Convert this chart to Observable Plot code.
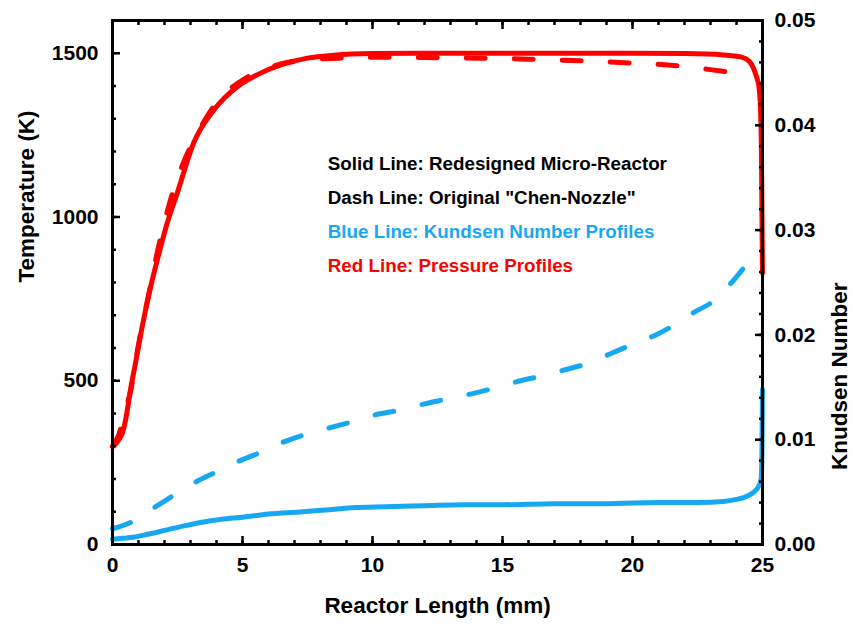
<!DOCTYPE html>
<html><head><meta charset="utf-8">
<script src="https://cdn.jsdelivr.net/npm/d3@7"></script>
<script src="https://cdn.jsdelivr.net/npm/@observablehq/plot@0.6"></script>
<style>body{margin:0;background:#fff}</style>
</head><body><div id="chart"></div>
<script>
// Temperature (K) — red
const xRedSolid = [0,0.2,0.4,0.55,0.67,0.9,1.14,1.42,1.72,2.1,2.49,3.12,3.9,4.8,5.56,6.5,7.5,8.5,10,12.5,15,17.5,20,22,23.5,24.2,24.5,24.65,24.8,24.86,24.92,24.96,24.98,25];
const tRedSolid = [298,315,345,400,462,560,664,770,868,980,1073,1226,1327,1398,1434,1465,1485,1494,1499,1500,1500,1500,1500,1499,1495,1488,1475,1455,1420,1400,1337,1200,1000,828];
const xRedDash = [0,0.23,0.5,0.69,1.01,1.37,1.75,2.2,2.82,3.3,3.7,4.3,5.08,5.5,6.5,7.5,8.7,10,12,14,16,18,20,21.7,23,24.1,24.5];
const tRedDash = [300,333,410,466,615,755,902,1044,1183,1260,1315,1375,1422,1440,1468,1480,1485,1488,1487,1485,1482,1477,1470,1462,1450,1438,1434];
// Knudsen number — blue
const xBlueSolid = [0,0.4,0.8,1.4,2.1,2.8,3.4,4.2,5,6,7.2,8.2,9.2,10.5,12,13.5,15,17,19,21,22.5,23.5,24,24.3,24.55,24.75,24.88,24.95,24.98,25];
const knBlueSolid = [0.0005,0.0006,0.0007,0.0010,0.0014,0.0018,0.0021,0.0024,0.0026,0.0029,0.0031,0.0033,0.0035,0.0036,0.0037,0.0038,0.0038,0.0039,0.0039,0.0040,0.0040,0.0041,0.0043,0.0045,0.0048,0.0052,0.0057,0.0063,0.0090,0.0148];
const xBlueDash = [0,0.7,1.46,2.23,3.08,3.88,4.81,5.6,6.5,7.3,8.3,9.2,10.15,11,11.96,12.9,13.85,14.65,15.65,16.55,17.45,18.3,19.15,20,20.9,21.65,22.4,23.1,23.85,24.5];
const knBlueDash = [0.0015,0.0021,0.0033,0.0045,0.0058,0.0068,0.0079,0.0087,0.0097,0.0104,0.0111,0.0117,0.0124,0.0128,0.0134,0.0139,0.0144,0.0149,0.0156,0.0161,0.0167,0.0173,0.0182,0.0191,0.0200,0.0210,0.0222,0.0232,0.0251,0.0271];

// Axes
const xMajor = [0,5,10,15,20,25];
const xMinor = d3.range(0,26,1);
const tMajor = [0,500,1000,1500];
const tMinor = d3.range(0,1601,100);
const knMajor = [0,0.01,0.02,0.03,0.04,0.05];
const knMinor = d3.range(0,0.0501,0.002);
const tDomain = [0,1600];
const knDomain = [0,0.05];
const K = tDomain[1] / knDomain[1]; // maps Knudsen to the shared y scale

const xTitle = "Reactor Length (mm)";
const yTitle = "Temperature (K)";
const y2Title = "Knudsen Number";
const annTexts = ["Solid Line: Redesigned Micro-Reactor","Dash Line: Original \"Chen-Nozzle\"","Blue Line: Kundsen Number Profiles","Red Line: Pressure Profiles"];
const annColors = ["#000000","#000000","#18a8f2","#ff0000"];

const RED = "#ff0000", BLUE = "#18a8f2";
const zip = (xs, ys) => xs.map((x, i) => ({x, y: ys[i]}));
const redSolid = zip(xRedSolid, tRedSolid);
const redDash = zip(xRedDash, tRedDash);
const blueSolid = zip(xBlueSolid, knBlueSolid);
const blueDash = zip(xBlueDash, knBlueDash);
const ann = annTexts.map((t, i) => ({t, c: annColors[i], i}));

const FONT = "'Liberation Sans', Arial, Helvetica, sans-serif";
const tickW = 2.5;
const dash = "19,29";
const TF = 21;

const chart = Plot.plot({
  width: 853, height: 628,
  marginLeft: 112, marginRight: 91, marginTop: 20, marginBottom: 84,
  style: {fontFamily: FONT, fontWeight: "bold", fontSize: "20px", background: "#fff", color: "#000"},
  x: {domain: [0,25]},
  y: {domain: tDomain},
  marks: [
    Plot.line(blueSolid, {x: "x", y: d => d.y * K, stroke: BLUE, strokeWidth: 5, curve: "monotone-x"}),
    Plot.line(blueDash, {x: "x", y: d => d.y * K, stroke: BLUE, strokeWidth: 5, curve: "monotone-x", strokeDasharray: dash, strokeLinecap: "round"}),
    Plot.line(redDash, {x: "x", y: "y", stroke: RED, strokeWidth: 5, curve: "monotone-x", strokeDasharray: dash, strokeLinecap: "round"}),
    Plot.line(redSolid, {x: "x", y: "y", stroke: RED, strokeWidth: 5, curve: "monotone-x"}),
    Plot.text(ann, {x: () => 8.28, y: d => 1162 - d.i * 104, text: "t", fill: "c", textAnchor: "start", fontSize: 18.8, fontWeight: "bold"}),
    Plot.frame({strokeWidth: 3}),
    // bottom axis
    Plot.axisX({ticks: xMajor, tickSize: -8, tickPadding: 21, strokeWidth: tickW, fontSize: TF, fontWeight: "bold", tickFormat: d => String(d), label: null}),
    Plot.axisX(xMinor, {tickSize: -4, tickFormat: () => "", strokeWidth: tickW, label: null}),
    // top axis (mirror)
    Plot.axisX({anchor: "top", ticks: xMajor, tickSize: -8, tickFormat: () => "", strokeWidth: tickW, label: null}),
    Plot.axisX(xMinor, {anchor: "top", tickSize: -4, tickFormat: () => "", strokeWidth: tickW, label: null}),
    // left axis
    Plot.axisY({ticks: tMajor, tickSize: -8, tickPadding: 22, strokeWidth: tickW, fontSize: TF, fontWeight: "bold", tickFormat: d => String(d), label: null}),
    Plot.axisY(tMinor, {tickSize: -4, tickFormat: () => "", strokeWidth: tickW, label: null}),
    // right axis (Knudsen)
    Plot.axisY({anchor: "right", ticks: knMajor.map(v => v * K), tickFormat: d => (d / K).toFixed(2), tickSize: -8, tickPadding: 20, strokeWidth: tickW, fontSize: TF, fontWeight: "bold", label: null}),
    Plot.axisY(knMinor.map(v => v * K), {anchor: "right", tickSize: -4, tickFormat: () => "", strokeWidth: tickW, label: null}),
    // titles
    Plot.text([xTitle], {frameAnchor: "bottom", dy: 61, text: d => d, fontSize: 22.5, fontWeight: "bold", lineAnchor: "middle"}),
    Plot.text([yTitle], {frameAnchor: "left", dx: -86, rotate: -90, text: d => d, fontSize: 22.5, fontWeight: "bold"}),
    Plot.text([y2Title], {frameAnchor: "right", dx: 77, rotate: -90, text: d => d, fontSize: 22.5, fontWeight: "bold"})
  ]
});
document.getElementById("chart").appendChild(chart);
</script>
</body></html>
